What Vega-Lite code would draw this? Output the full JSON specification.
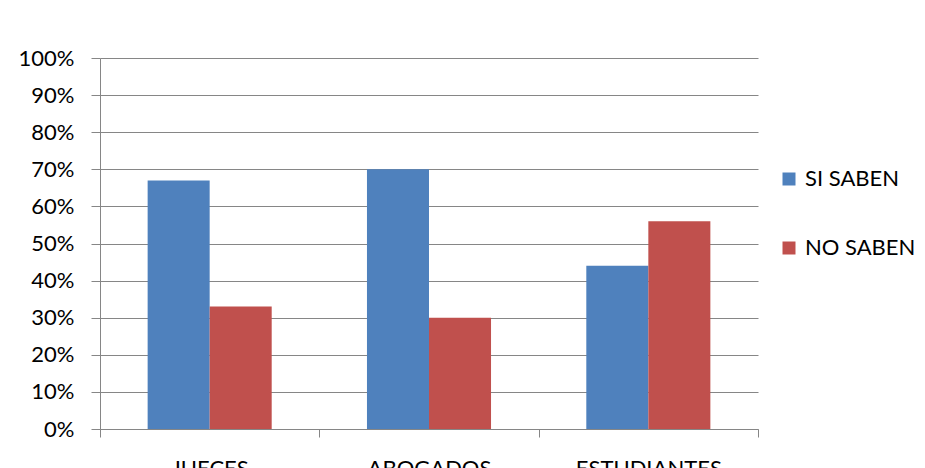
{
  "$schema": "https://vega.github.io/schema/vega-lite/v6.json",
  "autosize": {"type": "none"},
  "width": 658,
  "height": 371,
  "padding": {"left": 100, "top": 58, "right": 167, "bottom": 39},
  "background": "white",
  "data": {
    "values": [
      {"grupo": "JUECES", "respuesta": "SI SABEN", "valor": 0.67},
      {"grupo": "JUECES", "respuesta": "NO SABEN", "valor": 0.33},
      {"grupo": "ABOGADOS", "respuesta": "SI SABEN", "valor": 0.70},
      {"grupo": "ABOGADOS", "respuesta": "NO SABEN", "valor": 0.30},
      {"grupo": "ESTUDIANTES", "respuesta": "SI SABEN", "valor": 0.44},
      {"grupo": "ESTUDIANTES", "respuesta": "NO SABEN", "valor": 0.56}
    ]
  },
  "mark": {"type": "bar"},
  "encoding": {
    "x": {
      "field": "grupo",
      "type": "nominal",
      "sort": ["JUECES", "ABOGADOS", "ESTUDIANTES"],
      "scale": {"paddingInner": 0, "paddingOuter": 0},
      "axis": {
        "title": null,
        "labelAngle": 0,
        "tickBand": "extent",
        "tickSize": 8,
        "labelPadding": 21,
        "labelFontSize": 22,
        "labelFont": "Lato",
        "labelColor": "black",
        "labelOverlap": false,
        "domainColor": "#868686",
        "tickColor": "#868686",
        "grid": false
      }
    },
    "xOffset": {
      "field": "respuesta",
      "type": "nominal",
      "sort": ["SI SABEN", "NO SABEN"],
      "scale": {"paddingInner": 0, "paddingOuter": 0.768}
    },
    "y": {
      "field": "valor",
      "type": "quantitative",
      "scale": {"domain": [0, 1], "nice": false},
      "axis": {
        "title": null,
        "format": ".0%",
        "values": [0, 0.1, 0.2, 0.3, 0.4, 0.5, 0.6, 0.7, 0.8, 0.9, 1],
        "tickSize": 9,
        "labelPadding": 17,
        "labelFontSize": 22,
        "labelFont": "Lato",
        "labelColor": "black",
        "labelOverlap": false,
        "domainColor": "#868686",
        "tickColor": "#868686",
        "gridColor": "#868686",
        "grid": true
      }
    },
    "color": {
      "field": "respuesta",
      "type": "nominal",
      "sort": ["SI SABEN", "NO SABEN"],
      "scale": {"domain": ["SI SABEN", "NO SABEN"], "range": ["#4F81BD", "#C0504D"]},
      "legend": {
        "title": null,
        "orient": "none",
        "legendX": 678,
        "legendY": 110,
        "padding": 0,
        "symbolType": "square",
        "symbolSize": 169,
        "symbolStrokeWidth": 0,
        "symbolOpacity": 1,
        "labelFontSize": 22,
        "labelFont": "Lato",
        "labelColor": "black",
        "labelOffset": 5,
        "rowPadding": 47
      }
    }
  },
  "config": {"view": {"stroke": null}}
}
